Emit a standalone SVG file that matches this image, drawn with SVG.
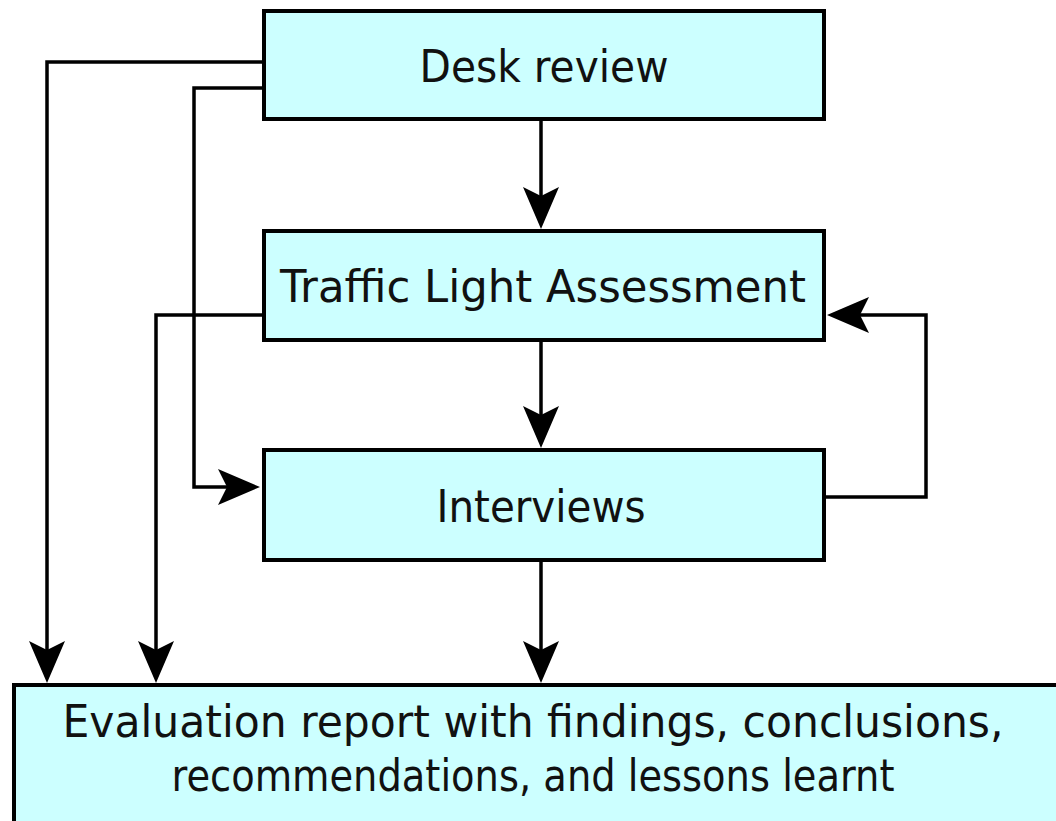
<svg xmlns="http://www.w3.org/2000/svg" width="1056" height="821" viewBox="0 0 1056 821">
  <style>
    .box { fill: #CCFFFF; stroke: #000; stroke-width: 4; }
    .lbl { font-family: "DejaVu Sans", "Liberation Sans", sans-serif; font-size: 44px; fill: #111; text-anchor: middle; }
    .conn { fill: none; stroke: #000; stroke-width: 3.5; }
  </style>
  <defs>
    <marker id="arrow" markerUnits="userSpaceOnUse" markerWidth="44" markerHeight="38" viewBox="-13 -19 44 38" refX="0" refY="0" orient="auto">
      <path d="M30,0 L-12,-18 L-3,0 L-12,18 Z" fill="#000"/>
    </marker>
  </defs>
  <rect width="1056" height="821" fill="#fff"/>

  <g id="connectors">
    <path class="conn" d="M541,121 V199" marker-end="url(#arrow)"/>
    <path class="conn" d="M541,342 V418" marker-end="url(#arrow)"/>
    <path class="conn" d="M541,562 V653" marker-end="url(#arrow)"/>
    <path class="conn" d="M262,62 H47 V653" marker-end="url(#arrow)"/>
    <path class="conn" d="M262,88 H194 V487 H230" marker-end="url(#arrow)"/>
    <path class="conn" d="M262,315 H156 V653" marker-end="url(#arrow)"/>
    <path class="conn" d="M826,497 H926 V315 H857" marker-end="url(#arrow)"/>
  </g>

  <g id="desk-review">
    <rect class="box" x="264" y="11" width="560" height="108"/>
    <text class="lbl" x="544" y="82" textLength="249" lengthAdjust="spacingAndGlyphs">Desk review</text>
  </g>

  <g id="traffic-light">
    <rect class="box" x="264" y="231" width="560" height="109"/>
    <text class="lbl" x="543" y="302" textLength="526" lengthAdjust="spacingAndGlyphs">Traffic Light Assessment</text>
  </g>

  <g id="interviews">
    <rect class="box" x="264" y="450" width="560" height="110"/>
    <text class="lbl" x="541" y="522" textLength="209" lengthAdjust="spacingAndGlyphs">Interviews</text>
  </g>

  <g id="evaluation-report">
    <rect class="box" x="14" y="685" width="1100" height="200"/>
    <text class="lbl" x="533" y="737" textLength="941" lengthAdjust="spacingAndGlyphs">Evaluation report with findings, conclusions,</text>
    <text class="lbl" x="533" y="791" textLength="723" lengthAdjust="spacingAndGlyphs">recommendations, and lessons learnt</text>
  </g>
</svg>
